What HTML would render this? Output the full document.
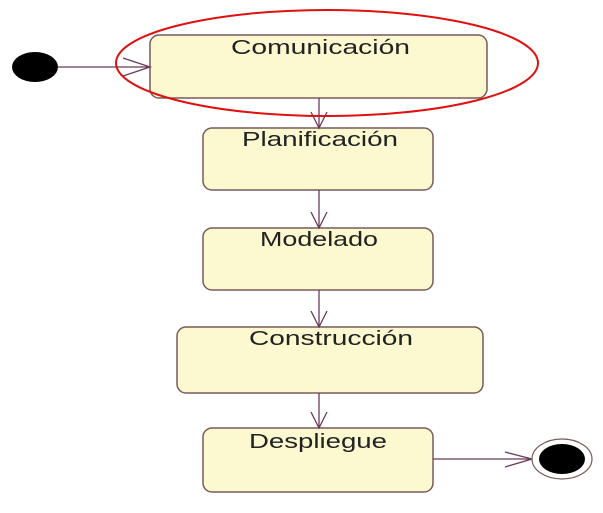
<!DOCTYPE html>
<html><head><style>body{margin:0;background:#fff}</style></head><body>
<svg width="603" height="508" viewBox="0 0 603 508" xmlns="http://www.w3.org/2000/svg" font-family="Liberation Sans, sans-serif">
<g fill="#fcf9d0" stroke="#7a5a5a" stroke-width="1.5">
<rect x="150" y="35" width="337" height="63" rx="9"/>
<rect x="203" y="128" width="230" height="62" rx="9"/>
<rect x="203" y="228" width="230" height="62" rx="9"/>
<rect x="177" y="327" width="306" height="66" rx="9"/>
<rect x="203" y="428" width="230" height="64" rx="9"/>
</g>
<g stroke="#6b3a5a" stroke-width="1.3" fill="none">
<line x1="58" y1="67" x2="150" y2="67"/><polyline points="123,58 150,67 123,76"/>
<line x1="319" y1="98" x2="319" y2="128"/><polyline points="311,112 319,128 327,112"/>
<line x1="319" y1="190" x2="319" y2="228"/><polyline points="311,212 319,228 327,212"/>
<line x1="319" y1="290" x2="319" y2="327"/><polyline points="311,311 319,327 327,311"/>
<line x1="319" y1="393" x2="319" y2="428"/><polyline points="311,412 319,428 327,412"/>
<line x1="433" y1="459" x2="532" y2="459"/><polyline points="505,452 532,459 505,467"/>
</g>
<ellipse cx="35" cy="67" rx="23" ry="15" fill="#000"/>
<ellipse cx="562" cy="459" rx="30" ry="20" fill="#fff" stroke="#7a5a5a" stroke-width="1.2"/>
<ellipse cx="562" cy="459" rx="23" ry="15" fill="#000"/>
<ellipse cx="327" cy="63" rx="211" ry="53" fill="none" stroke="#e01010" stroke-width="2"/>
<g font-size="20" fill="#222">
<text x="231" y="54" textLength="179" lengthAdjust="spacingAndGlyphs">Comunicación</text>
<text x="242" y="146" textLength="156" lengthAdjust="spacingAndGlyphs">Planificación</text>
<text x="260" y="246" textLength="118" lengthAdjust="spacingAndGlyphs">Modelado</text>
<text x="249" y="345" textLength="164" lengthAdjust="spacingAndGlyphs">Construcción</text>
<text x="249" y="448" textLength="138" lengthAdjust="spacingAndGlyphs">Despliegue</text>
</g>
</svg>
</body></html>
